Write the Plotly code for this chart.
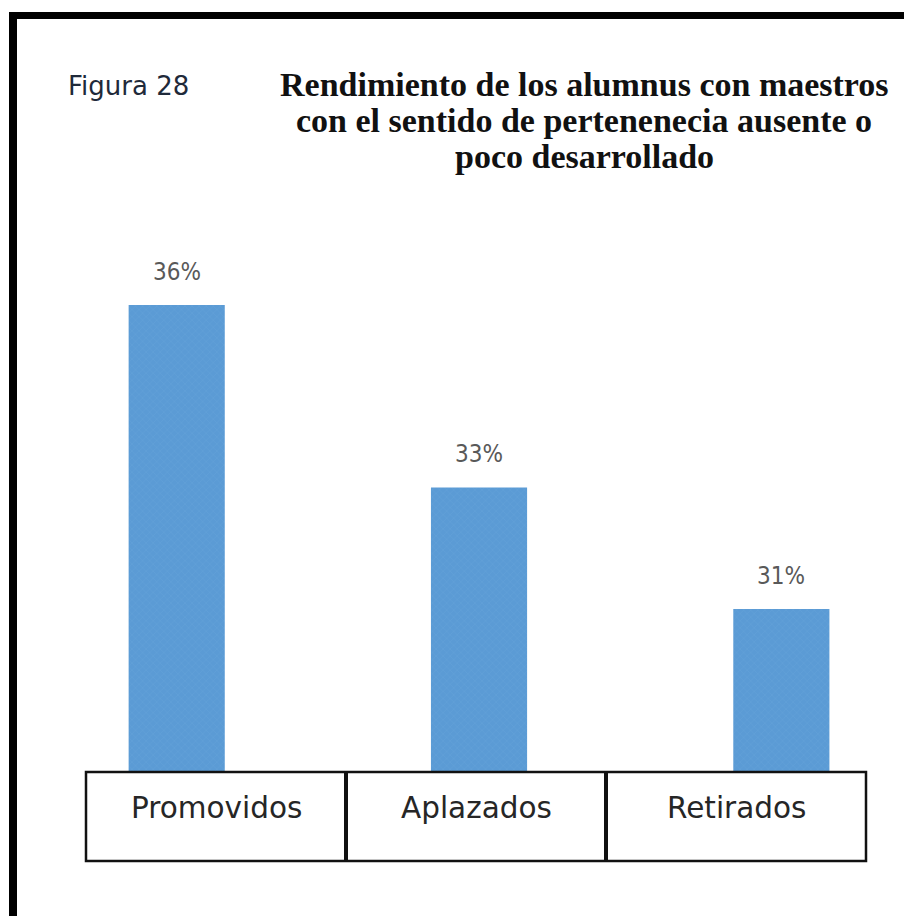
import plotly.graph_objects as go

categories = ["Promovidos", "Aplazados", "Retirados"]
values = [36, 33, 31]
value_labels = ["36%", "33%", "31%"]
title_lines = [
    "Rendimiento de los alumnus con maestros",
    "con el sentido de pertenenecia ausente o",
    "poco desarrollado",
]
figure_label = "Figura 28"

# page body has an 8px margin; work in screen coordinates and shift
OFF = 8
W, H = 912 - 2 * OFF, 924 - 2 * OFF
ML = 86 - OFF
MT = 200 - OFF
PW = 780
PH = 572
MR = W - ML - PW
MB = H - MT - PH


def px(x):
    return (x - OFF - ML) / PW


def py(y):
    return (MT + PH - (y - OFF)) / PH


fig = go.Figure()
fig.add_trace(go.Bar(
    x=list(range(len(categories))),
    y=values,
    width=0.318,
    marker=dict(
        color="#5b9bd5",
        line=dict(width=0),
        pattern=dict(shape="x", size=5, solidity=0.15,
                     fgcolor="#72aae0", bgcolor="#5b9bd5"),
    ),
    hoverinfo="skip",
))

annotations = []
for i, (v, lab) in enumerate(zip(values, value_labels)):
    annotations.append(dict(
        x=i, y=v, xref="x", yref="y", text=lab, showarrow=False,
        yanchor="middle", yshift=33,
        font=dict(family="Liberation Sans Narrow, DejaVu Sans Condensed, sans-serif",
                  size=24, color="#595959"),
    ))

n = len(categories)
for i, c in enumerate(categories):
    annotations.append(dict(
        x=(i + 0.5) / n, y=py(808), xref="x domain", yref="paper", text=c,
        showarrow=False, xanchor="center", yanchor="middle",
        font=dict(family="DejaVu Sans, Noto Sans, sans-serif", size=29.5, color="#262626"),
    ))

for line, yc in zip(title_lines, [84, 121, 157]):
    annotations.append(dict(
        x=px(584), y=py(yc), xref="paper", yref="paper", text="<b>" + line + "</b>",
        showarrow=False, xanchor="center", yanchor="middle",
        font=dict(family="Liberation Serif, Times New Roman, serif", size=34, color="#111111"),
    ))

annotations.append(dict(
    x=px(66), y=py(86), xref="paper", yref="paper", text=figure_label,
    showarrow=False, xanchor="left", yanchor="middle",
    font=dict(family="DejaVu Sans, Noto Sans, sans-serif", size=26, color="#1f2a3a"),
))

shapes = []
# table boxes under the bars
tb_top, tb_bot = py(772), py(861)
shapes.append(dict(type="rect", xref="x domain", yref="paper", x0=0, x1=1,
                   y0=tb_bot, y1=tb_top, line=dict(color="#111111", width=2.5)))
for k in range(1, n):
    shapes.append(dict(type="line", xref="x domain", yref="paper", x0=k / n, x1=k / n,
                       y0=tb_bot, y1=tb_top, line=dict(color="#111111", width=4)))
# outer frame (left and top thick black)
shapes.append(dict(type="rect", xref="paper", yref="paper", x0=px(9), x1=px(17),
                   y0=py(924), y1=py(12), fillcolor="black", line=dict(width=0)))
shapes.append(dict(type="rect", xref="paper", yref="paper", x0=px(9), x1=px(912),
                   y0=py(19), y1=py(12), fillcolor="black", line=dict(width=0)))

fig.update_layout(
    width=W, height=H,
    margin=dict(l=ML, r=MR, t=MT, b=MB, pad=0),
    paper_bgcolor="white", plot_bgcolor="white",
    showlegend=False,
    xaxis=dict(range=[-0.3, 2.28], showticklabels=False, showgrid=False,
               zeroline=False, showline=False, ticks=""),
    yaxis=dict(range=[28.32, 28.32 + PH / 60.8], showticklabels=False, showgrid=False,
               zeroline=False, showline=False, ticks=""),
    annotations=annotations,
    shapes=shapes,
)

fig.write_html("out.html")
